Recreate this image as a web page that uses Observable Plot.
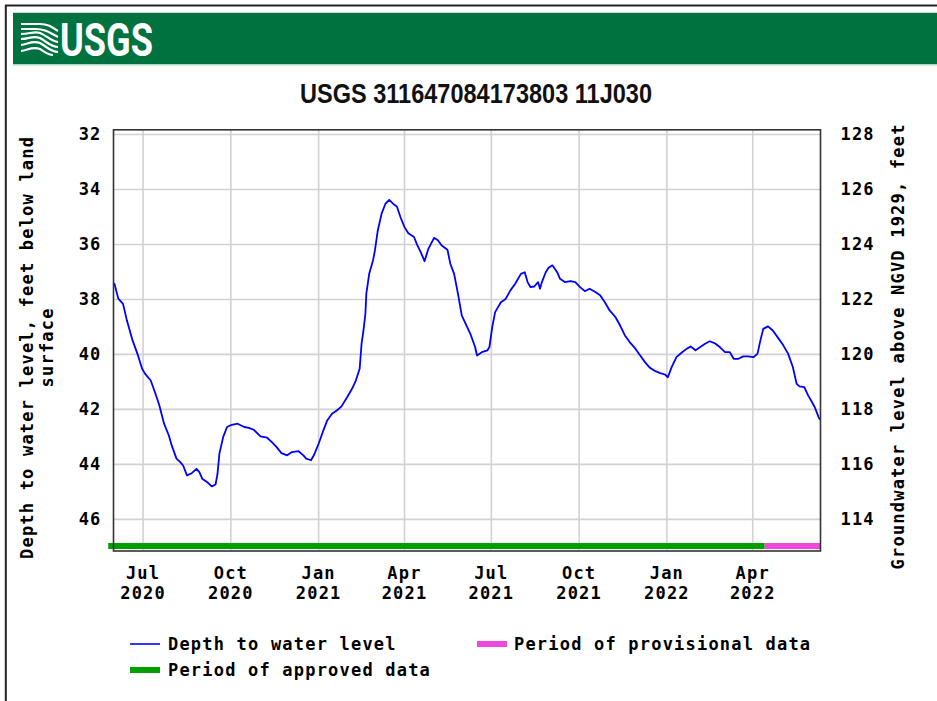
<!DOCTYPE html>
<html>
<head>
<meta charset="utf-8">
<script src="https://cdn.jsdelivr.net/npm/d3@7"></script>
<script src="https://cdn.jsdelivr.net/npm/@observablehq/plot@0.6"></script>
<style>
  html, body { margin: 0; padding: 0; background: #fff; }
  #page { position: relative; width: 937px; height: 701px; overflow: hidden; background: #fff; }
  #overlay { position: absolute; left: 0; top: 0; }
  #chart { position: absolute; left: 0; top: 110px; }
  .mono { font-family: "DejaVu Sans Mono", monospace; font-weight: bold; font-size: 17px; letter-spacing: 1.2px; }
</style>
</head>
<body>
<div id="page">
  <svg id="overlay" width="937" height="701" xmlns="http://www.w3.org/2000/svg">
    <!-- outer border -->
    <line x1="5.8" y1="5" x2="5.8" y2="701" stroke="#222" stroke-width="2"/>
    <line x1="5" y1="5.5" x2="937" y2="5.5" stroke="#222" stroke-width="2"/>
    <!-- banner -->
    <rect x="13" y="12" width="924" height="1" fill="#cfd8d3"/>
    <rect x="13" y="13" width="924" height="51" fill="#00723f"/>
    <rect x="13" y="64" width="924" height="1.5" fill="#a8dcc0"/>
    <!-- logo wave icon -->
    <g fill="none" stroke="#fff" stroke-width="2.2" stroke-linecap="butt">
      <path d="M21,24 L40,24 C48,24 52,27 58,31"/>
      <path d="M21,29 L36,29 C46,29 50,33 58,37"/>
      <path d="M21,34 C30,34 34,31 40,33 C47,36 51,41 58,42"/>
      <path d="M21,39 C29,39 33,35 40,38 C47,42 51,47 58,47"/>
      <path d="M21,45 C28,44 33,40 40,43 C47,47 51,52 58,52"/>
      <path d="M21,51 C28,50 33,46 40,49 C45,52 48,55 53,55"/>
    </g>
    <text x="60" y="55.5" fill="#fff" font-family="'Liberation Sans Narrow','Arial Narrow',Roboto,sans-serif" font-weight="bold" font-size="46" textLength="93" lengthAdjust="spacingAndGlyphs">USGS</text>
    <!-- title -->
    <text id="title" x="300" y="103" fill="#111" font-family="'Liberation Sans Narrow','Arial Narrow','Liberation Sans',sans-serif" font-weight="bold" font-size="27" textLength="352" lengthAdjust="spacingAndGlyphs">USGS 311647084173803 11J030</text>
    <!-- legend -->
    <g id="legend"></g>
  </svg>
  <div id="chart"></div>
</div>
<script>
// ---- Data ----
const title = "USGS 311647084173803 11J030";
const dates = [
  "2020-06-01","2020-06-05","2020-06-10","2020-06-14","2020-06-20","2020-06-25","2020-06-30",
  "2020-07-03","2020-07-09","2020-07-14","2020-07-18","2020-07-23","2020-07-28","2020-07-31",
  "2020-08-05","2020-08-09","2020-08-12","2020-08-16","2020-08-21","2020-08-26","2020-08-29",
  "2020-09-01","2020-09-06","2020-09-11","2020-09-15","2020-09-17","2020-09-19","2020-09-23","2020-09-27",
  "2020-10-02","2020-10-08","2020-10-15","2020-10-20","2020-10-25",
  "2020-11-01","2020-11-08","2020-11-13","2020-11-18","2020-11-23","2020-11-29",
  "2020-12-04","2020-12-11","2020-12-16","2020-12-19","2020-12-24","2020-12-27",
  "2021-01-01","2021-01-06","2021-01-10","2021-01-15","2021-01-20","2021-01-25","2021-01-31",
  "2021-02-05","2021-02-09","2021-02-13","2021-02-15","2021-02-17","2021-02-19","2021-02-20","2021-02-23","2021-02-27",
  "2021-03-01","2021-03-04","2021-03-08","2021-03-12","2021-03-16","2021-03-21","2021-03-24","2021-03-28",
  "2021-04-01","2021-04-05","2021-04-11","2021-04-14","2021-04-18","2021-04-22","2021-04-26",
  "2021-05-02","2021-05-06","2021-05-10","2021-05-16","2021-05-19","2021-05-23","2021-05-27","2021-05-31",
  "2021-06-04","2021-06-09","2021-06-14","2021-06-16","2021-06-21","2021-06-27","2021-06-29",
  "2021-07-02","2021-07-05","2021-07-11","2021-07-16","2021-07-21","2021-07-26",
  "2021-08-01","2021-08-05","2021-08-08","2021-08-11","2021-08-15","2021-08-19","2021-08-21","2021-08-23","2021-08-27","2021-08-30",
  "2021-09-03","2021-09-08","2021-09-11","2021-09-16","2021-09-22","2021-09-27",
  "2021-10-02","2021-10-07","2021-10-12","2021-10-18","2021-10-23","2021-10-28",
  "2021-11-02","2021-11-08","2021-11-13","2021-11-18","2021-11-23","2021-11-29",
  "2021-12-04","2021-12-09","2021-12-14","2021-12-20","2021-12-25","2021-12-30",
  "2022-01-02","2022-01-06","2022-01-11","2022-01-17","2022-01-22","2022-01-26","2022-01-31",
  "2022-02-05","2022-02-10","2022-02-15","2022-02-21","2022-02-26",
  "2022-03-03","2022-03-08","2022-03-12","2022-03-17","2022-03-22","2022-03-27",
  "2022-04-02","2022-04-06","2022-04-09","2022-04-12","2022-04-17","2022-04-22","2022-04-27",
  "2022-05-03","2022-05-08","2022-05-13","2022-05-17","2022-05-20","2022-05-25","2022-05-29",
  "2022-06-02","2022-06-05","2022-06-09","2022-06-10"
];
const depths = [
  37.43,37.97,38.16,38.76,39.49,39.97,40.52,
  40.70,40.95,41.43,41.85,42.52,42.95,43.31,
  43.79,43.92,44.04,44.40,44.32,44.16,44.28,
  44.52,44.64,44.80,44.73,44.34,43.61,43.00,42.64,
  42.56,42.52,42.64,42.67,42.74,
  42.98,43.03,43.19,43.37,43.59,43.67,
  43.55,43.52,43.67,43.79,43.85,43.67,
  43.25,42.76,42.40,42.16,42.04,41.89,41.55,
  41.25,40.95,40.52,39.61,39.13,38.52,37.79,37.07,36.58,
  36.22,35.49,34.88,34.52,34.38,34.55,34.62,35.03,
  35.37,35.59,35.73,36.00,36.28,36.61,36.16,
  35.76,35.85,36.04,36.19,36.70,37.07,37.79,38.58,
  38.88,39.25,39.73,40.04,39.92,39.85,39.73,
  39.00,38.46,38.10,37.98,37.67,37.43,
  37.07,37.01,37.37,37.55,37.53,37.37,37.61,37.37,37.01,36.85,
  36.76,37.01,37.25,37.37,37.33,37.37,
  37.55,37.70,37.61,37.73,37.85,38.10,
  38.40,38.64,38.95,39.31,39.55,39.79,
  40.04,40.28,40.48,40.61,40.68,40.73,
  40.83,40.46,40.10,39.92,39.79,39.71,39.85,
  39.73,39.61,39.52,39.61,39.75,
  39.92,39.92,40.16,40.16,40.07,40.07,
  40.10,39.97,39.49,39.07,38.98,39.13,39.37,
  39.67,39.97,40.46,41.07,41.16,41.19,41.49,
  41.73,41.92,42.28,42.35
];
const yTicks = [32, 34, 36, 38, 40, 42, 44, 46];
const rightTickLabels = [128, 126, 124, 122, 120, 118, 116, 114];
const xTickDates = ["2020-07-01","2020-10-01","2021-01-01","2021-04-01","2021-07-01","2021-10-01","2022-01-01","2022-04-01"];
const xTickMonths = ["Jul","Oct","Jan","Apr","Jul","Oct","Jan","Apr"];
const xTickYears = ["2020","2020","2021","2021","2021","2021","2022","2022"];
const periodNames = ["Period of approved data", "Period of provisional data"];
const periodStarts = ["2020-05-26", "2022-04-14"];
const periodEnds = ["2022-04-14", "2022-06-12"];
const periodColors = ["#00a000", "#f048dc"];
const lineName = "Depth to water level";
const lineColor = "#0000ff";
const leftLabel = "Depth to water level, feet below land\nsurface";
const rightLabel = "Groundwater level above NGVD 1929, feet";
const xDomain = ["2020-05-31", "2022-06-11"];
const yDomain = [31.83, 47.15];

// ---- Build tables ----
const rows = dates.map((d, i) => ({date: new Date(d), depth: depths[i]}));
const periods = periodNames.map((n, i) => ({name: n, start: new Date(periodStarts[i]), end: new Date(periodEnds[i]), color: periodColors[i]}));
const xTicks = xTickDates.map(d => new Date(d));
const xLabel = new Map(xTickDates.map((d, i) => [+new Date(d), xTickMonths[i] + "\n" + xTickYears[i]]));
const rightLabelOf = new Map(yTicks.map((d, i) => [d, rightTickLabels[i]]));

const chart = Plot.plot({
  width: 937,
  height: 505,
  marginLeft: 113,
  marginRight: 117,
  marginTop: 19.3,
  marginBottom: 64.5,
  style: {
    fontFamily: "'DejaVu Sans Mono', monospace",
    fontSize: "17px",
    fontWeight: "bold",
    letterSpacing: "1.2px",
    background: "transparent",
    overflow: "visible",
    color: "#000"
  },
  x: {type: "utc", domain: xDomain.map(d => new Date(d))},
  y: {domain: [yDomain[1], yDomain[0]]},
  color: {type: "identity"},
  marks: [
    Plot.gridY(yTicks, {stroke: "#d2d2d2", strokeOpacity: 1, strokeWidth: 1.6}),
    Plot.gridX(xTicks, {stroke: "#d2d2d2", strokeOpacity: 1, strokeWidth: 1.6}),
    Plot.ruleY(periods, {x1: "start", x2: "end", y: () => yDomain[1], dy: -5, stroke: "color", strokeWidth: 6}),
    Plot.lineY(rows, {x: "date", y: "depth", stroke: lineColor, strokeWidth: 1.8}),
    Plot.frame({stroke: "#333", strokeWidth: 1.6}),
    Plot.axisY(yTicks, {anchor: "left", tickSize: 0, tickPadding: 12, tickFormat: d => String(d), label: null}),
    Plot.axisY(yTicks, {anchor: "right", tickSize: 0, tickPadding: 20, tickFormat: d => String(rightLabelOf.get(d)), label: null}),
    Plot.axisX(xTicks, {anchor: "bottom", tickSize: 0, tickPadding: 14, tickFormat: d => xLabel.get(+d), lineHeight: 1.18, label: null}),
    Plot.text([leftLabel], {frameAnchor: "left", text: d => d, rotate: -90, dx: -77, dy: 7, lineHeight: 1.18, textAnchor: "middle", lineAnchor: "middle"}),
    Plot.text([rightLabel], {frameAnchor: "right", text: d => d, rotate: -90, dx: 78, dy: 6, textAnchor: "middle", lineAnchor: "middle"})
  ]
});
document.getElementById("chart").appendChild(chart);

// ---- Legend ----
const ns = "http://www.w3.org/2000/svg";
const legend = document.getElementById("legend");
function add(tag, attrs, text) {
  const el = document.createElementNS(ns, tag);
  for (const k in attrs) el.setAttribute(k, attrs[k]);
  if (text != null) el.textContent = text;
  legend.appendChild(el);
  return el;
}
add("line", {x1: 130, x2: 160, y1: 644, y2: 644, stroke: lineColor, "stroke-width": 1.6});
add("text", {x: 168, y: 650, class: "mono"}, lineName);
add("rect", {x: 130, y: 667, width: 30, height: 6, fill: periodColors[0]});
add("text", {x: 168, y: 676, class: "mono"}, periodNames[0]);
add("rect", {x: 477, y: 641, width: 30, height: 6, fill: periodColors[1]});
add("text", {x: 514, y: 650, class: "mono"}, periodNames[1]);
</script>
</body>
</html>
